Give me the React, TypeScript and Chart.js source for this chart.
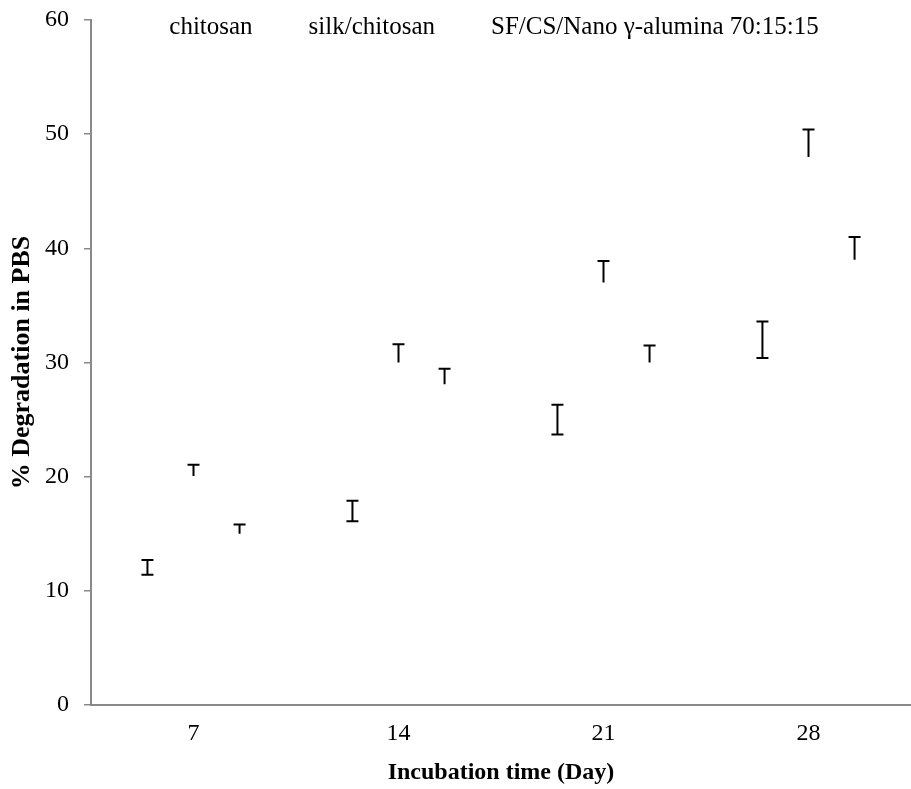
import { useEffect, useRef } from "react";
import { Chart, registerables } from "chart.js";

Chart.register(...registerables);

// ---- data ----
const days = ["7", "14", "21", "28"];
const seriesLabels = ["chitosan", "silk/chitosan", "SF/CS/Nano γ-alumina 70:15:15"];

const chitosanMean = [12.05, 17.0, 25.0, 32.0];
const chitosanErrUp = [0.65, 0.9, 1.3, 1.6];
const chitosanErrDown = [0.65, 0.9, 1.3, 1.6];

const silkChitosanMean = [20.05, 30.0, 37.0, 48.0];
const silkChitosanErrUp = [1.0, 1.6, 1.9, 2.4];
const silkChitosanErrDown = [0, 0, 0, 0];

const sfCsAluminaMean = [15.0, 28.1, 30.0, 39.0];
const sfCsAluminaErrUp = [0.8, 1.35, 1.5, 2.0];
const sfCsAluminaErrDown = [0, 0, 0, 0];

const yMin = 0;
const yMax = 60;
const yStep = 10;

const FONT = "'Liberation Serif', 'Times New Roman', serif";
const AXIS_GREY = "#898989";

const errorBarPlugin = {
  id: "errorBars",
  afterDatasetsDraw(chart: any, _args: any, opts: any) {
    const { ctx } = chart;
    const y = chart.scales.y;
    chart.data.datasets.forEach((ds: any, i: number) => {
      const meta = chart.getDatasetMeta(i);
      if (meta.hidden) return;
      meta.data.forEach((el: any, j: number) => {
        const v = ds.data[j];
        const up = ds.errUp ? ds.errUp[j] : 0;
        const down = ds.errDown ? ds.errDown[j] : 0;
        const x = el.x;
        const yTop = y.getPixelForValue(v + up);
        const yBot = y.getPixelForValue(v - down);
        const cap = opts.capHalfWidth;
        ctx.save();
        ctx.strokeStyle = opts.color;
        ctx.lineWidth = opts.lineWidth;
        ctx.beginPath();
        ctx.moveTo(x, yTop);
        ctx.lineTo(x, yBot);
        ctx.moveTo(x - cap, yTop);
        ctx.lineTo(x + cap, yTop);
        if (down > 0) {
          ctx.moveTo(x - cap, yBot);
          ctx.lineTo(x + cap, yBot);
        }
        ctx.stroke();
        ctx.restore();
      });
    });
  },
};

const textLegendPlugin = {
  id: "textLegend",
  afterDraw(chart: any, _args: any, opts: any) {
    const { ctx, chartArea } = chart;
    ctx.save();
    ctx.font = `${opts.size}px ${opts.family}`;
    ctx.fillStyle = opts.color;
    ctx.textBaseline = "alphabetic";
    ctx.textAlign = "left";
    const labels: string[] = chart.data.datasets.map((d: any) => d.label);
    const widths = labels.map((l) => ctx.measureText(l).width);
    const total = widths.reduce((a, b) => a + b, 0) + opts.gap * (labels.length - 1);
    let x = (chartArea.left + chartArea.right) / 2 - total / 2 + opts.offsetX;
    const yb = chartArea.top + opts.baselineOffset;
    labels.forEach((l, i) => {
      ctx.fillText(l, x, yb);
      x += widths[i] + opts.gap;
    });
    ctx.restore();
  },
};

export default function App() {
  const canvasRef = useRef<HTMLCanvasElement | null>(null);

  useEffect(() => {
    if (!canvasRef.current) return;
    const transparent = "rgba(0,0,0,0)";
    const chart = new Chart(canvasRef.current, {
      type: "bar",
      data: {
        labels: days,
        datasets: [
          {
            label: seriesLabels[0],
            data: chitosanMean,
            errUp: chitosanErrUp,
            errDown: chitosanErrDown,
            backgroundColor: transparent,
            borderWidth: 0,
          } as any,
          {
            label: seriesLabels[1],
            data: silkChitosanMean,
            errUp: silkChitosanErrUp,
            errDown: silkChitosanErrDown,
            backgroundColor: transparent,
            borderWidth: 0,
          } as any,
          {
            label: seriesLabels[2],
            data: sfCsAluminaMean,
            errUp: sfCsAluminaErrUp,
            errDown: sfCsAluminaErrDown,
            backgroundColor: transparent,
            borderWidth: 0,
          } as any,
        ],
      },
      options: {
        responsive: false,
        maintainAspectRatio: false,
        animation: false,
        layout: { padding: { top: 20, left: 0, right: 0, bottom: 0 } },
        datasets: {
          bar: { categoryPercentage: 0.674, barPercentage: 0.9 },
        },
        plugins: {
          legend: { display: false },
          tooltip: { enabled: false },
          errorBars: { color: "#000000", lineWidth: 2, capHalfWidth: 6 },
          textLegend: {
            size: 25,
            family: FONT,
            color: "#000000",
            gap: 56,
            offsetX: -7,
            baselineOffset: 14,
          },
        } as any,
        scales: {
          x: {
            grid: { display: false, drawTicks: false },
            border: { display: true, color: AXIS_GREY, width: 2 },
            ticks: {
              color: "#000000",
              font: { family: FONT, size: 24 },
              padding: 14,
            },
            title: {
              display: true,
              text: "Incubation time (Day)",
              color: "#000000",
              font: { family: FONT, size: 24, weight: "bold" },
              padding: { top: 0, bottom: 2 },
            },
            afterFit: (scale: any) => {
              scale.height = 84;
              scale.paddingLeft = 0;
              scale.paddingRight = 0;
            },
          },
          y: {
            min: yMin,
            max: yMax,
            grid: {
              drawOnChartArea: false,
              drawTicks: true,
              tickLength: 7,
              color: AXIS_GREY,
              lineWidth: 1.5,
            },
            border: { display: true, color: AXIS_GREY, width: 2 },
            ticks: {
              stepSize: yStep,
              color: "#000000",
              font: { family: FONT, size: 24 },
              padding: 15,
            },
            title: {
              display: true,
              text: "% Degradation in PBS",
              color: "#000000",
              font: { family: FONT, size: 26, weight: "bold" },
              padding: { top: 7, bottom: 0 },
            },
            afterFit: (scale: any) => {
              scale.width = 91;
              scale.paddingTop = 0;
              scale.paddingBottom = 0;
            },
          },
        },
      },
      plugins: [errorBarPlugin, textLegendPlugin],
    } as any);
    return () => chart.destroy();
  }, []);

  return (
    <div style={{ position: "fixed", left: 0, top: 0, width: 911, height: 789, background: "#ffffff" }}>
      <canvas ref={canvasRef} width={911} height={789} style={{ display: "block" }} />
    </div>
  );
}
